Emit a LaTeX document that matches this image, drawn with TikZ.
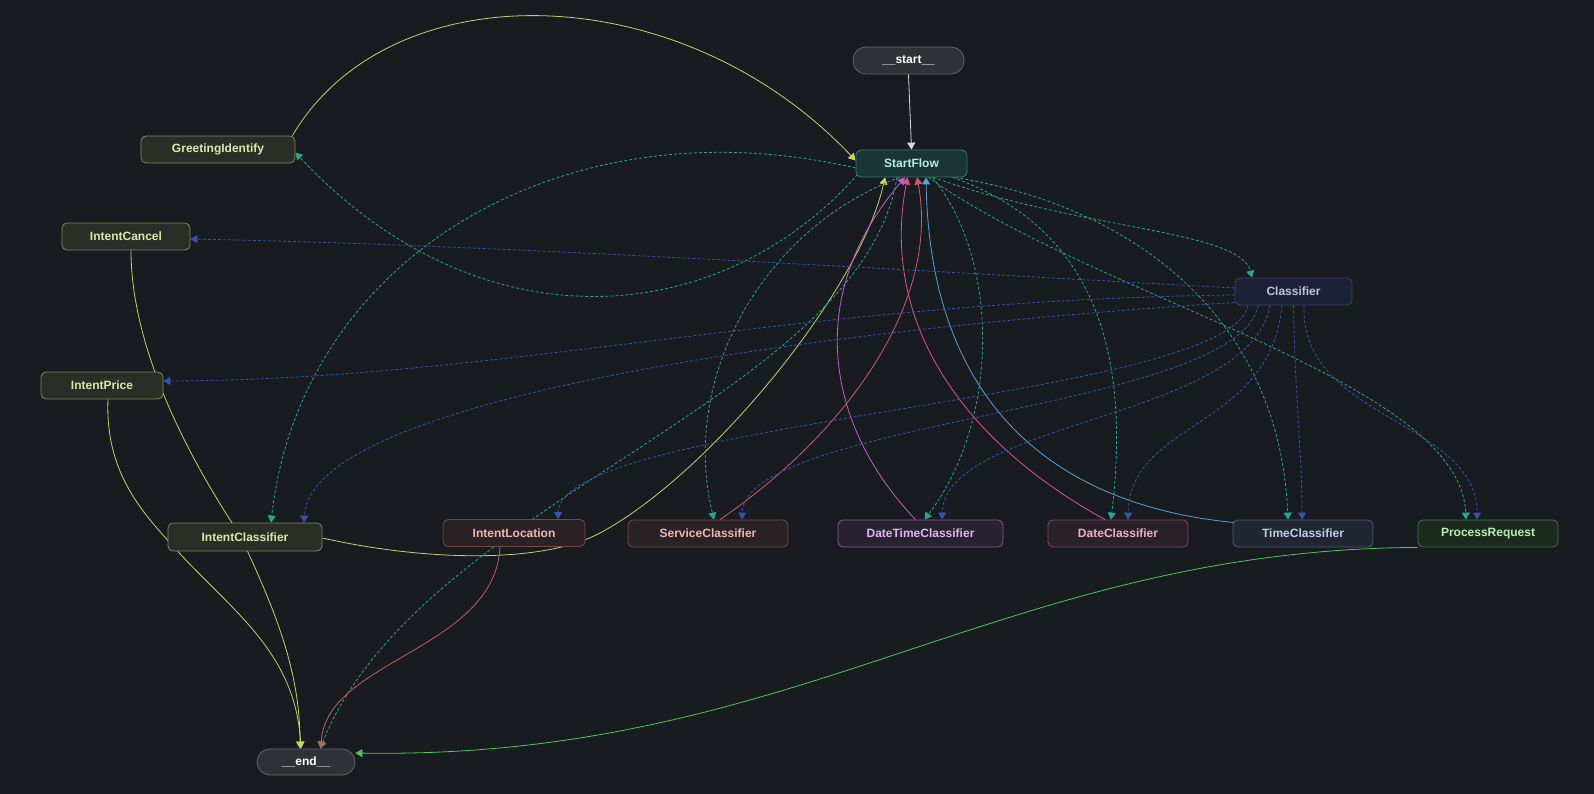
\documentclass[tikz,border=0pt]{standalone}
\usepackage{fontspec}
\setmainfont{Liberation Sans}
\usetikzlibrary{arrows.meta,calc}
\pgfdeclarelayer{bgl}
\pgfdeclarelayer{edges}
\pgfsetlayers{bgl,edges,main}
\definecolor{bgc}{HTML}{181B20}
\definecolor{termfill}{HTML}{2E3137}\definecolor{termdraw}{HTML}{62656C}
\definecolor{sffill}{HTML}{1B3533}\definecolor{sfdraw}{HTML}{2F7D72}\definecolor{sftext}{HTML}{B6F0E2}
\definecolor{yfill}{HTML}{2A2E26}\definecolor{ydraw}{HTML}{7F8A5A}\definecolor{ytext}{HTML}{DBE8AC}
\definecolor{cfill}{HTML}{1C2136}\definecolor{cdraw}{HTML}{364270}\definecolor{ctext}{HTML}{BCC6E4}
\definecolor{rfill}{HTML}{2A2326}\definecolor{rdraw}{HTML}{7D4646}\definecolor{rtext}{HTML}{F0B4B4}
\definecolor{dtfill}{HTML}{292331}\definecolor{dtdraw}{HTML}{8A569A}\definecolor{dttext}{HTML}{E2B4F2}
\definecolor{dfill}{HTML}{2A2229}\definecolor{ddraw}{HTML}{8C4660}\definecolor{dtext}{HTML}{F2ADC6}
\definecolor{tfill}{HTML}{212631}\definecolor{tdraw}{HTML}{466080}\definecolor{ttext}{HTML}{BCD0EE}
\definecolor{pfill}{HTML}{1C2A20}\definecolor{pdraw}{HTML}{3A7C46}\definecolor{ptext}{HTML}{B4F0AC}
\definecolor{tealc}{HTML}{27A58F}
\definecolor{bluec}{HTML}{3A50B0}
\definecolor{yelc}{HTML}{C5D36A}
\definecolor{greenc}{HTML}{4CC85A}
\definecolor{redc}{HTML}{C06060}
\definecolor{magc}{HTML}{C060D0}
\definecolor{pinkc}{HTML}{E05585}
\definecolor{salc}{HTML}{D05A6E}
\definecolor{lbluec}{HTML}{5B9FD6}
\definecolor{grayc}{HTML}{D8D8D8}
\begin{document}
\begin{tikzpicture}[x=1pt,y=-1pt,
  nodebase/.style={draw, rounded corners=5pt, minimum height=27pt, inner sep=0pt, line width=0.8pt,
    font=\bfseries\fontsize{12}{14}\selectfont},
  termnode/.style={nodebase, rounded corners=13pt, fill=termfill, draw=termdraw, text=white},
  sfnode/.style={nodebase, fill=sffill, draw=sfdraw, text=sftext},
  ynode/.style={nodebase, fill=yfill, draw=ydraw, text=ytext},
  cnode/.style={nodebase, fill=cfill, draw=cdraw, text=ctext},
  rnode/.style={nodebase, fill=rfill, draw=rdraw, text=rtext},
  dtnode/.style={nodebase, fill=dtfill, draw=dtdraw, text=dttext},
  dnode/.style={nodebase, fill=dfill, draw=ddraw, text=dtext},
  tnode/.style={nodebase, fill=tfill, draw=tdraw, text=ttext},
  pnode/.style={nodebase, fill=pfill, draw=pdraw, text=ptext},
  edgebase/.style={line width=0.8pt, -{Triangle[width=8pt,length=7pt]}},
  tedge/.style={edgebase, draw=tealc, dash pattern=on 3pt off 2pt},
  bedge/.style={edgebase, draw=bluec, dash pattern=on 3pt off 2pt},
  yedge/.style={edgebase, draw=yelc},
  gedge/.style={edgebase, draw=greenc},
  redge/.style={edgebase, draw=redc},
  medge/.style={edgebase, draw=magc},
  pedge/.style={edgebase, draw=pinkc},
  sedge/.style={edgebase, draw=salc},
  lbedge/.style={edgebase, draw=lbluec},
  grayedge/.style={edgebase, draw=grayc}
]
\useasboundingbox (0,0) rectangle (1594,794);
\begin{pgfonlayer}{bgl}
\fill[bgc] (0,0) rectangle (1594,794);
\end{pgfonlayer}

% nodes
\node[termnode, minimum width=111pt] (nstart) at (908.5,60.5) {\_\_start\_\_};
\node[sfnode, minimum width=111pt] (StartFlow) at (911.5,163.5) {StartFlow};
\node[ynode, minimum width=154pt] (GreetingIdentify) at (218,149.5) {GreetingIdentify};
\node[ynode, minimum width=128pt] (IntentCancel) at (126,236.5) {IntentCancel};
\node[ynode, minimum width=122pt] (IntentPrice) at (102,385.5) {IntentPrice};
\node[cnode, minimum width=117pt] (Classifier) at (1293.5,291.5) {Classifier};
\node[ynode, minimum width=154pt, minimum height=28pt] (IntentClassifier) at (245,537) {IntentClassifier};
\node[rnode, minimum width=142pt] (IntentLocation) at (514,533) {IntentLocation};
\node[rnode, minimum width=160pt] (ServiceClassifier) at (708,533.5) {ServiceClassifier};
\node[dtnode, minimum width=165pt] (DateTimeClassifier) at (920.5,533.5) {DateTimeClassifier};
\node[dnode, minimum width=140pt] (DateClassifier) at (1118,533.5) {DateClassifier};
\node[tnode, minimum width=140pt] (TimeClassifier) at (1303,533.5) {TimeClassifier};
\node[pnode, minimum width=140pt] (ProcessRequest) at (1488,533.5) {ProcessRequest};
\node[termnode, minimum width=98pt, minimum height=26pt] (nend) at (306,762) {\_\_end\_\_};

\begin{pgfonlayer}{edges}
% start
\draw[grayedge] (nstart.south) -- (StartFlow.north);
% GreetingIdentify <-> StartFlow
\draw[yedge] ([xshift=-3pt]GreetingIdentify.north east) .. controls (390,-30) and (680,-25) .. ([yshift=3pt]StartFlow.west);
\draw[tedge] ([xshift=2pt,yshift=3pt]StartFlow.south west) .. controls (720,330) and (480,350) .. ([yshift=-3pt]GreetingIdentify.east);
% StartFlow -> IntentClassifier
\draw[tedge] ([yshift=-4.5pt]StartFlow.west) .. controls (560,100) and (300,260) .. ([xshift=26pt]IntentClassifier.north);
% IntentClassifier -> StartFlow
\draw[yedge] ([yshift=-1pt]IntentClassifier.east) .. controls (420,560) and (540,565) .. (600,533)
  .. controls (710,474) and (860,290) .. ([xshift=-26.5pt]StartFlow.south);
% StartFlow -> end
\draw[tedge] ([xshift=-14.5pt]StartFlow.south) .. controls (860,400) and (420,500) .. ([xshift=14pt]nend.north);
% StartFlow -> ServiceClassifier
\draw[tedge] ([xshift=-12pt]StartFlow.south) .. controls (760,230) and (680,380) .. ([xshift=6pt]ServiceClassifier.north);
% StartFlow -> DateTimeClassifier
\draw[tedge] ([xshift=21pt]StartFlow.south) .. controls (1000,260) and (1000,420) .. ([xshift=4pt]DateTimeClassifier.north);
% StartFlow -> DateClassifier
\draw[tedge] ([xshift=41pt]StartFlow.south) .. controls (1100,230) and (1130,360) .. ([xshift=-7pt]DateClassifier.north);
% StartFlow -> TimeClassifier
\draw[tedge] ([xshift=44pt]StartFlow.south) .. controls (1150,210) and (1280,330) .. ([xshift=-15pt]TimeClassifier.north);
% StartFlow -> ProcessRequest
\draw[tedge] ([xshift=17pt]StartFlow.south) .. controls (1100,300) and (1460,380) .. ([xshift=-22pt]ProcessRequest.north);
% StartFlow -> Classifier
\draw[tedge] ([xshift=22pt]StartFlow.south) .. controls (1080,230) and (1240,230) .. ([xshift=-41.5pt]Classifier.north);

% back edges to StartFlow
\draw[sedge] ([xshift=12pt]ServiceClassifier.north) .. controls (850,430) and (940,300) .. ([xshift=5.5pt]StartFlow.south);
\draw[medge] ([xshift=-5pt]DateTimeClassifier.north) .. controls (830,430) and (800,300) .. ([xshift=-6.5pt]StartFlow.south);
\draw[pedge] ([xshift=-13pt]DateClassifier.north) .. controls (960,440) and (880,320) .. ([xshift=-4pt]StartFlow.south);
\draw[lbedge] ([xshift=-68pt,yshift=-3pt]TimeClassifier.north) .. controls (1050,505) and (930,400) .. ([xshift=14.5pt]StartFlow.south);

% Classifier edges
\draw[bedge] ([yshift=3.5pt]Classifier.west) .. controls (900,270) and (500,245) .. ([yshift=-2.5pt]IntentCancel.east);
\draw[bedge] ([yshift=-3.5pt]Classifier.west) .. controls (800,300) and (500,380) .. ([yshift=4.5pt]IntentPrice.east);
\draw[bedge] ([yshift=-11pt]Classifier.west) .. controls (800,330) and (310,400) .. ([xshift=59pt]IntentClassifier.north);
\draw[bedge] ([xshift=-45.5pt]Classifier.south) .. controls (1230,400) and (560,420) .. ([xshift=44pt]IntentLocation.north);
\draw[bedge] ([xshift=-35.5pt]Classifier.south) .. controls (1240,410) and (745,420) .. ([xshift=34pt]ServiceClassifier.north);
\draw[bedge] ([xshift=-23.5pt]Classifier.south) .. controls (1250,420) and (945,420) .. ([xshift=21.5pt]DateTimeClassifier.north);
\draw[bedge] ([xshift=-11.5pt]Classifier.south) .. controls (1270,430) and (1130,420) .. ([xshift=10pt]DateClassifier.north);
\draw[bedge] (Classifier.south) .. controls (1295,400) and (1302,450) .. ([xshift=-1pt]TimeClassifier.north);
\draw[bedge] ([xshift=10.5pt]Classifier.south) .. controls (1300,420) and (1477,420) .. ([xshift=-11pt]ProcessRequest.north);

% edges to end
\draw[yedge] ([xshift=5pt]IntentCancel.south) .. controls (131,350) and (190,460) .. (240,535)
  .. controls (275,610) and (300,670) .. ([xshift=-6pt]nend.north);
\draw[yedge] ([xshift=6pt]IntentPrice.south) .. controls (105,470) and (140,510) .. (172,545)
  .. controls (230,610) and (295,650) .. ([xshift=-5pt]nend.north);
\draw[redge] ([xshift=-14pt]IntentLocation.south) .. controls (495,650) and (325,660) .. ([xshift=15pt]nend.north);
\draw[gedge] (ProcessRequest.south west) .. controls (1000,550) and (800,760) .. ([yshift=9pt]nend.east);
\end{pgfonlayer}
\end{tikzpicture}
\end{document}
